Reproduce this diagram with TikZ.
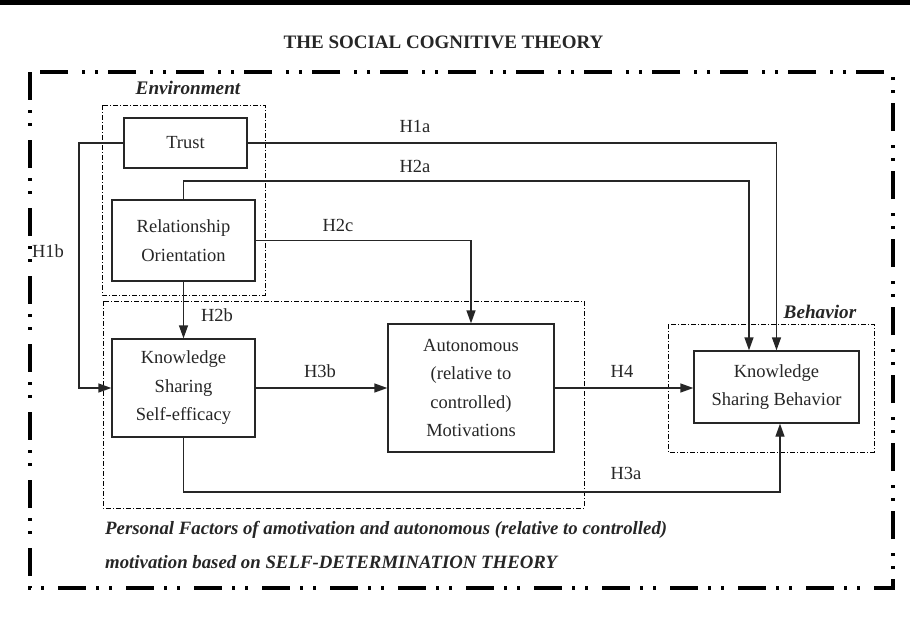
\documentclass[tikz,border=0pt]{standalone}
\usepackage{fontspec}
\setmainfont{Liberation Serif}
\usetikzlibrary{arrows.meta,calc}
\definecolor{ink}{HTML}{262626}
\tikzset{
  box/.style={draw=ink, line width=1.3pt, inner sep=0pt, align=center, text=ink,
    font=\fontsize{18.5}{28.5}\selectfont},
  conn/.style={draw=ink, line width=1.3pt},
  arr/.style={conn, -{Triangle[length=13pt,width=9pt]}},
  lbl/.style={text=ink, font=\fontsize{18.5}{22}\selectfont, inner sep=0pt},
  grp/.style={draw=black, line width=0.9pt, dash pattern=on 5pt off 2pt on 1pt off 2pt},
  grplbl/.style={font=\fontsize{19.2}{22}\selectfont\bfseries\itshape, inner sep=0pt, text=ink},
  botlbl/.style={font=\fontsize{18.8}{22}\selectfont\bfseries\itshape, inner sep=0pt, text=ink, anchor=west},
  outer/.style={draw=black, line width=3.5pt, dash pattern=on 28pt off 10pt on 3pt off 10pt on 3pt off 14pt}
}
\begin{document}
\begin{tikzpicture}[x=1pt,y=-1pt]
\useasboundingbox (0,0) rectangle (910,619);
\fill[black] (0,0) rectangle (910,5);
\node[font=\fontsize{19}{22}\selectfont\bfseries, text=ink, inner sep=0pt] (title) at (443.5,42) {THE SOCIAL COGNITIVE THEORY};
\draw[outer] (30,72) rectangle (893,588);

% group frames
\draw[grp] (102,105) rectangle (265,295);
\draw[grp] (103,301) rectangle (584,508);
\draw[grp] (668,324) rectangle (874,452);
\node[grplbl] (envl) at (188,88) {Environment};
\node[grplbl] (behl) at (820,312) {Behavior};

% boxes
\node[box, minimum width=123pt, minimum height=50pt] (trust) at (185.5,143) {Trust};
\node[box, minimum width=143pt, minimum height=81pt] (rel) at (183.5,240.5) {Relationship\\Orientation};
\node[box, minimum width=143pt, minimum height=98pt] (ksse) at (183.5,388) {Knowledge\\Sharing\\Self-efficacy};
\node[box, minimum width=166pt, minimum height=128pt] (auto) at (471,388) {Autonomous\\(relative to\\controlled)\\Motivations};
\node[box, minimum width=165pt, minimum height=72pt] (ksb) at (776.5,387) {Knowledge\\Sharing Behavior};

% connectors
\coordinate (c2a) at (749,181);
\coordinate (c1b) at (79,143);
\coordinate (c3a) at (780,492);
\draw[arr] (trust.east) -| (ksb.north);
\draw[arr] (rel.north) |- (c2a) -- (c2a |- ksb.north);
\draw[arr] (rel.east) -| (auto.north);
\draw[arr] (trust.west) -- (c1b) |- (ksse.west);
\draw[arr] (rel.south) -- (ksse.north);
\draw[arr] (ksse.east) -- (auto.west);
\draw[arr] (auto.east) -- (auto.east -| ksb.west);
\draw[arr] (ksse.south) |- (c3a) -- (c3a |- ksb.south);

% labels
\node[lbl] (h1a) at (415,126) {H1a};
\node[lbl] (h2a) at (415,166) {H2a};
\node[lbl] (h2c) at (338,225) {H2c};
\node[lbl] (h1b) at (48,251) {H1b};
\node[lbl] (h2b) at (217,315) {H2b};
\node[lbl] (h3b) at (320,371) {H3b};
\node[lbl] (h4) at (622,371) {H4};
\node[lbl] (h3a) at (626,473) {H3a};

% bottom text
\node[botlbl] (pf1) at (105,530) {Personal Factors of amotivation and autonomous (relative to controlled)};
\node[botlbl] (pf2) at (105,562) {motivation based on SELF-DETERMINATION THEORY};
\end{tikzpicture}
\end{document}
